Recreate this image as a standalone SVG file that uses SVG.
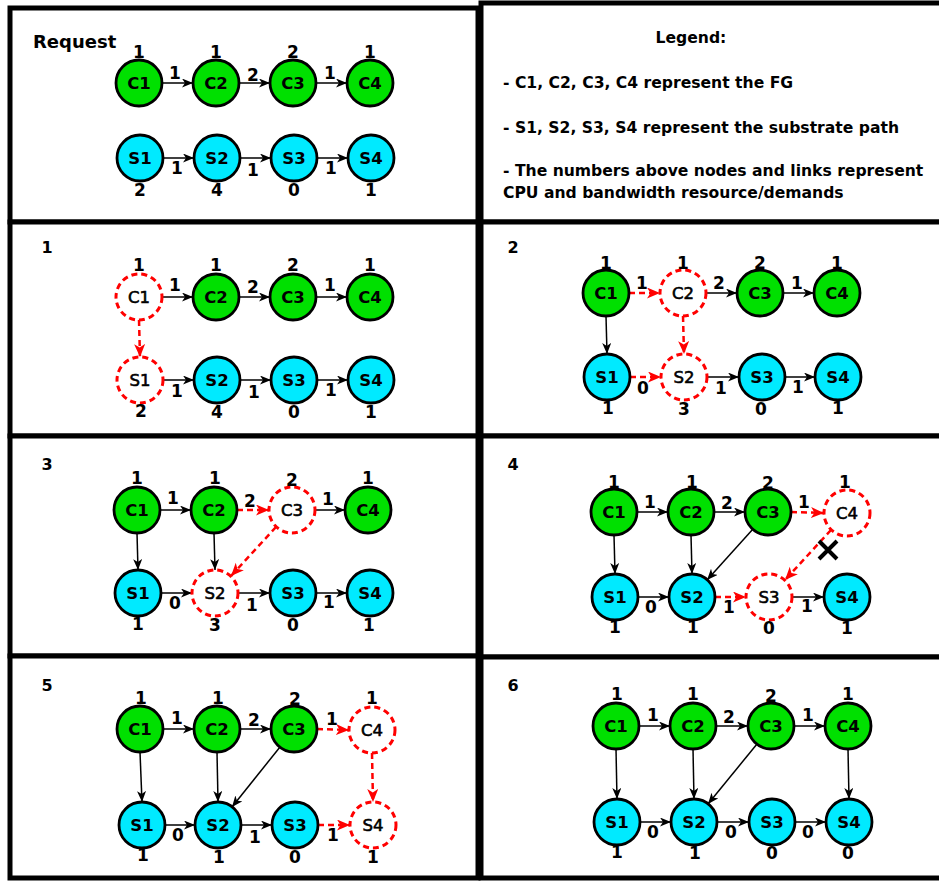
<svg xmlns="http://www.w3.org/2000/svg" width="939" height="881" viewBox="0 0 939 881">
<defs>
<style>
.frame{fill:#fff;stroke:#000;stroke-width:5}
.g{fill:#00e000;stroke:#000;stroke-width:2.8}
.c{fill:#00eaff;stroke:#000;stroke-width:2.8}
.d{fill:#fff;stroke:#f00;stroke-width:3;stroke-dasharray:6 4}
.n{font-family:"DejaVu Sans",sans-serif;font-weight:bold;font-size:16.5px;text-anchor:middle;fill:#000}
.nd{font-family:"DejaVu Sans",sans-serif;font-size:16.5px;text-anchor:middle;fill:#000;stroke:#000;stroke-width:0.6}
.v{font-family:"DejaVu Sans",sans-serif;font-weight:bold;font-size:17px;text-anchor:middle;fill:#000}
.t{font-family:"DejaVu Sans",sans-serif;font-weight:bold;font-size:16px;fill:#000}
.rq{font-family:"DejaVu Sans",sans-serif;font-weight:bold;font-size:18px;fill:#000}
.lg{font-family:"DejaVu Sans",sans-serif;font-weight:bold;font-size:15.6px;fill:#000}
.a{stroke:#000;stroke-width:1.5;fill:none;marker-end:url(#ab)}
.r{stroke:#f00;stroke-width:2.5;fill:none;stroke-dasharray:6 4;marker-end:url(#ar)}
</style>
<marker id="ab" markerUnits="userSpaceOnUse" markerWidth="12" markerHeight="10" refX="11" refY="4.5" orient="auto"><path d="M0,0 L11,4.5 L0,9 L3,4.5 z" fill="#000"/></marker>
<marker id="ar" markerUnits="userSpaceOnUse" markerWidth="14" markerHeight="12" refX="13" refY="5.5" orient="auto"><path d="M0,0 L13,5.5 L0,11 L3.5,5.5 z" fill="#f00"/></marker>
</defs>
<rect width="939" height="881" fill="#fff"/>
<g id="frames">
<rect class="frame" x="10" y="8" width="468" height="214"/>
<rect class="frame" x="481" y="3" width="464" height="219"/>
<rect class="frame" x="10" y="222" width="468" height="214"/>
<rect class="frame" x="481" y="222" width="464" height="214"/>
<rect class="frame" x="10" y="436" width="468" height="220"/>
<rect class="frame" x="481" y="436" width="464" height="221"/>
<rect class="frame" x="10" y="656" width="468" height="222"/>
<rect class="frame" x="481" y="657" width="464" height="221"/>
</g>
<g id="titles">
<text class="rq" x="33" y="48">Request</text>
<text class="t" x="47" y="253" text-anchor="middle">1</text>
<text class="t" x="513" y="253" text-anchor="middle">2</text>
<text class="t" x="47" y="470" text-anchor="middle">3</text>
<text class="t" x="513" y="470" text-anchor="middle">4</text>
<text class="t" x="47" y="691" text-anchor="middle">5</text>
<text class="t" x="513" y="691" text-anchor="middle">6</text>
</g>
<g id="legend">
<text class="lg" x="691" y="43" text-anchor="middle">Legend:</text>
<text class="lg" x="503" y="88">- C1, C2, C3, C4 represent the FG</text>
<text class="lg" x="503" y="133">- S1, S2, S3, S4 represent the substrate path</text>
<text class="lg" x="503" y="176">- The numbers above nodes and links represent</text>
<text class="lg" x="503" y="198">CPU and bandwidth resource/demands</text>
</g>
<g id="connectors">
<line class="a" x1="162" y1="83" x2="193" y2="83"/>
<line class="a" x1="239" y1="83" x2="270" y2="83"/>
<line class="a" x1="316" y1="83" x2="347" y2="83"/>
<line class="a" x1="163" y1="158" x2="194" y2="158"/>
<line class="a" x1="240" y1="158" x2="271" y2="158"/>
<line class="a" x1="317" y1="158" x2="348" y2="158"/>
<line class="a" x1="162" y1="297" x2="193" y2="297"/>
<line class="a" x1="239" y1="297" x2="270" y2="297"/>
<line class="a" x1="316" y1="297" x2="347" y2="297"/>
<line class="r" x1="139" y1="320" x2="140" y2="357"/>
<line class="a" x1="163" y1="380" x2="194" y2="380"/>
<line class="a" x1="240" y1="380" x2="271" y2="380"/>
<line class="a" x1="317" y1="380" x2="348" y2="380"/>
<line class="r" x1="629" y1="293" x2="660" y2="293"/>
<line class="a" x1="706" y1="293" x2="737" y2="293"/>
<line class="a" x1="783" y1="293" x2="814" y2="293"/>
<line class="a" x1="606" y1="316" x2="607" y2="354"/>
<line class="r" x1="683" y1="316" x2="684" y2="354"/>
<line class="r" x1="630" y1="377" x2="661" y2="377"/>
<line class="a" x1="707" y1="377" x2="739" y2="377"/>
<line class="a" x1="785" y1="377" x2="815" y2="377"/>
<line class="a" x1="160" y1="510" x2="191" y2="510"/>
<line class="r" x1="237" y1="510" x2="269" y2="510"/>
<line class="a" x1="315" y1="510" x2="345" y2="510"/>
<line class="a" x1="137" y1="533" x2="138" y2="570"/>
<line class="a" x1="214" y1="533" x2="215" y2="570"/>
<line class="r" x1="276" y1="527" x2="231" y2="576"/>
<line class="a" x1="161" y1="593" x2="192" y2="593"/>
<line class="a" x1="238" y1="593" x2="270" y2="593"/>
<line class="a" x1="316" y1="593" x2="347" y2="593"/>
<line class="a" x1="637" y1="512" x2="668" y2="512"/>
<line class="a" x1="714" y1="512" x2="745" y2="512"/>
<line class="r" x1="791" y1="512" x2="824" y2="513"/>
<line class="a" x1="614" y1="535" x2="615" y2="574"/>
<line class="a" x1="691" y1="535" x2="692" y2="574"/>
<line class="a" x1="753" y1="529" x2="707" y2="580"/>
<line class="r" x1="831" y1="530" x2="785" y2="580"/>
<line class="a" x1="638" y1="597" x2="669" y2="597"/>
<line class="r" x1="715" y1="597" x2="746" y2="597"/>
<line class="a" x1="792" y1="597" x2="824" y2="597"/>
<line class="a" x1="163" y1="729" x2="194" y2="729"/>
<line class="a" x1="240" y1="729" x2="271" y2="729"/>
<line class="r" x1="317" y1="729" x2="349" y2="730"/>
<line class="a" x1="140" y1="752" x2="142" y2="802"/>
<line class="a" x1="217" y1="752" x2="218" y2="802"/>
<line class="a" x1="280" y1="747" x2="232" y2="807"/>
<line class="r" x1="372" y1="753" x2="373" y2="802"/>
<line class="a" x1="165" y1="825" x2="195" y2="825"/>
<line class="a" x1="241" y1="825" x2="272" y2="825"/>
<line class="r" x1="318" y1="825" x2="350" y2="825"/>
<line class="a" x1="639" y1="726" x2="670" y2="726"/>
<line class="a" x1="716" y1="726" x2="748" y2="726"/>
<line class="a" x1="794" y1="726" x2="825" y2="726"/>
<line class="a" x1="616" y1="749" x2="617" y2="799"/>
<line class="a" x1="693" y1="749" x2="694" y2="799"/>
<line class="a" x1="757" y1="744" x2="708" y2="804"/>
<line class="a" x1="848" y1="749" x2="849" y2="799"/>
<line class="a" x1="640" y1="822" x2="671" y2="822"/>
<line class="a" x1="717" y1="822" x2="749" y2="822"/>
<line class="a" x1="795" y1="822" x2="826" y2="822"/>
<path d="M819,541 L837,559 M837,541 L819,559" stroke="#000" stroke-width="4" fill="none"/>
</g>
<g id="link-labels">
<text class="v" x="175" y="79">1</text><text class="v" x="253" y="81">2</text><text class="v" x="330" y="79">1</text>
<text class="v" x="177" y="174">1</text><text class="v" x="253" y="176">1</text><text class="v" x="331" y="174">1</text>
<text class="v" x="175" y="291">1</text><text class="v" x="253" y="293">2</text><text class="v" x="330" y="291">1</text>
<text class="v" x="177" y="397">1</text><text class="v" x="254" y="398">1</text><text class="v" x="331" y="396">1</text>
<text class="v" x="642" y="289">1</text><text class="v" x="719" y="289">2</text><text class="v" x="797" y="289">1</text>
<text class="v" x="643" y="394">0</text><text class="v" x="721" y="394">1</text><text class="v" x="798" y="393">1</text>
<text class="v" x="173" y="504">1</text><text class="v" x="250" y="507">2</text><text class="v" x="328" y="505">1</text>
<text class="v" x="175" y="609">0</text><text class="v" x="252" y="611">1</text><text class="v" x="329" y="608">1</text>
<text class="v" x="650" y="508">1</text><text class="v" x="727" y="509">2</text><text class="v" x="804" y="508">1</text>
<text class="v" x="651" y="613">0</text><text class="v" x="729" y="613">1</text><text class="v" x="807" y="612">1</text>
<text class="v" x="177" y="724">1</text><text class="v" x="254" y="726">2</text><text class="v" x="332" y="725">1</text>
<text class="v" x="178" y="841">0</text><text class="v" x="255" y="843">1</text><text class="v" x="333" y="841">1</text>
<text class="v" x="653" y="721">1</text><text class="v" x="729" y="723">2</text><text class="v" x="808" y="721">1</text>
<text class="v" x="653" y="838">0</text><text class="v" x="731" y="838">0</text><text class="v" x="808" y="838">0</text>
</g>
<g id="req-C1"><circle class="g" cx="139" cy="83" r="23"/><text class="n" x="139" y="89">C1</text><text class="v" x="139" y="58">1</text></g>
<g id="req-C2"><circle class="g" cx="216" cy="83" r="23"/><text class="n" x="216" y="89">C2</text><text class="v" x="216" y="58">1</text></g>
<g id="req-C3"><circle class="g" cx="293" cy="83" r="23"/><text class="n" x="293" y="89">C3</text><text class="v" x="293" y="58">2</text></g>
<g id="req-C4"><circle class="g" cx="370" cy="83" r="23"/><text class="n" x="370" y="89">C4</text><text class="v" x="370" y="58">1</text></g>
<g id="req-S1"><circle class="c" cx="140" cy="158" r="23"/><text class="n" x="140" y="164">S1</text><text class="v" x="140" y="196">2</text></g>
<g id="req-S2"><circle class="c" cx="217" cy="158" r="23"/><text class="n" x="217" y="164">S2</text><text class="v" x="217" y="196">4</text></g>
<g id="req-S3"><circle class="c" cx="294" cy="158" r="23"/><text class="n" x="294" y="164">S3</text><text class="v" x="294" y="196">0</text></g>
<g id="req-S4"><circle class="c" cx="371" cy="158" r="23"/><text class="n" x="371" y="164">S4</text><text class="v" x="371" y="196">1</text></g>
<g id="p1-C1"><circle class="d" cx="139" cy="297" r="23"/><text class="nd" x="139" y="303">C1</text><text class="v" x="139" y="271">1</text></g>
<g id="p1-C2"><circle class="g" cx="216" cy="297" r="23"/><text class="n" x="216" y="303">C2</text><text class="v" x="216" y="271">1</text></g>
<g id="p1-C3"><circle class="g" cx="293" cy="297" r="23"/><text class="n" x="293" y="303">C3</text><text class="v" x="293" y="271">2</text></g>
<g id="p1-C4"><circle class="g" cx="370" cy="297" r="23"/><text class="n" x="370" y="303">C4</text><text class="v" x="370" y="271">1</text></g>
<g id="p1-S1"><circle class="d" cx="140" cy="380" r="23"/><text class="nd" x="140" y="386">S1</text><text class="v" x="141" y="417">2</text></g>
<g id="p1-S2"><circle class="c" cx="217" cy="380" r="23"/><text class="n" x="217" y="386">S2</text><text class="v" x="217" y="418">4</text></g>
<g id="p1-S3"><circle class="c" cx="294" cy="380" r="23"/><text class="n" x="294" y="386">S3</text><text class="v" x="294" y="418">0</text></g>
<g id="p1-S4"><circle class="c" cx="371" cy="380" r="23"/><text class="n" x="371" y="386">S4</text><text class="v" x="371" y="418">1</text></g>
<g id="p2-C1"><circle class="g" cx="606" cy="293" r="23"/><text class="n" x="606" y="299">C1</text><text class="v" x="606" y="269">1</text></g>
<g id="p2-C2"><circle class="d" cx="683" cy="293" r="23"/><text class="nd" x="683" y="299">C2</text><text class="v" x="683" y="269">1</text></g>
<g id="p2-C3"><circle class="g" cx="760" cy="293" r="23"/><text class="n" x="760" y="299">C3</text><text class="v" x="760" y="269">2</text></g>
<g id="p2-C4"><circle class="g" cx="837" cy="293" r="23"/><text class="n" x="837" y="299">C4</text><text class="v" x="837" y="269">1</text></g>
<g id="p2-S1"><circle class="c" cx="607" cy="377" r="23"/><text class="n" x="607" y="383">S1</text><text class="v" x="608" y="414">1</text></g>
<g id="p2-S2"><circle class="d" cx="684" cy="377" r="23"/><text class="nd" x="684" y="383">S2</text><text class="v" x="684" y="415">3</text></g>
<g id="p2-S3"><circle class="c" cx="762" cy="377" r="23"/><text class="n" x="762" y="383">S3</text><text class="v" x="761" y="415">0</text></g>
<g id="p2-S4"><circle class="c" cx="838" cy="377" r="23"/><text class="n" x="838" y="383">S4</text><text class="v" x="838" y="414">1</text></g>
<g id="p3-C1"><circle class="g" cx="137" cy="510" r="23"/><text class="n" x="137" y="516">C1</text><text class="v" x="137" y="484">1</text></g>
<g id="p3-C2"><circle class="g" cx="214" cy="510" r="23"/><text class="n" x="214" y="516">C2</text><text class="v" x="215" y="484">1</text></g>
<g id="p3-C3"><circle class="d" cx="292" cy="510" r="23"/><text class="nd" x="292" y="516">C3</text><text class="v" x="292" y="486">2</text></g>
<g id="p3-C4"><circle class="g" cx="368" cy="510" r="23"/><text class="n" x="368" y="516">C4</text><text class="v" x="368" y="484">1</text></g>
<g id="p3-S1"><circle class="c" cx="138" cy="593" r="23"/><text class="n" x="138" y="599">S1</text><text class="v" x="138" y="630">1</text></g>
<g id="p3-S2"><circle class="d" cx="215" cy="593" r="23"/><text class="nd" x="215" y="599">S2</text><text class="v" x="215" y="631">3</text></g>
<g id="p3-S3"><circle class="c" cx="293" cy="593" r="23"/><text class="n" x="293" y="599">S3</text><text class="v" x="293" y="631">0</text></g>
<g id="p3-S4"><circle class="c" cx="370" cy="593" r="23"/><text class="n" x="370" y="599">S4</text><text class="v" x="369" y="631">1</text></g>
<g id="p4-C1"><circle class="g" cx="614" cy="512" r="23"/><text class="n" x="614" y="518">C1</text><text class="v" x="614" y="488">1</text></g>
<g id="p4-C2"><circle class="g" cx="691" cy="512" r="23"/><text class="n" x="691" y="518">C2</text><text class="v" x="692" y="488">1</text></g>
<g id="p4-C3"><circle class="g" cx="768" cy="512" r="23"/><text class="n" x="768" y="518">C3</text><text class="v" x="768" y="489">2</text></g>
<g id="p4-C4"><circle class="d" cx="847" cy="513" r="23"/><text class="nd" x="847" y="519">C4</text><text class="v" x="845" y="488">1</text></g>
<g id="p4-S1"><circle class="c" cx="615" cy="597" r="23"/><text class="n" x="615" y="603">S1</text><text class="v" x="615" y="633">1</text></g>
<g id="p4-S2"><circle class="c" cx="692" cy="597" r="23"/><text class="n" x="692" y="603">S2</text><text class="v" x="693" y="633">1</text></g>
<g id="p4-S3"><circle class="d" cx="769" cy="597" r="23"/><text class="nd" x="769" y="603">S3</text><text class="v" x="769" y="634">0</text></g>
<g id="p4-S4"><circle class="c" cx="847" cy="597" r="23"/><text class="n" x="847" y="603">S4</text><text class="v" x="847" y="634">1</text></g>
<g id="p5-C1"><circle class="g" cx="140" cy="729" r="23"/><text class="n" x="140" y="735">C1</text><text class="v" x="141" y="704">1</text></g>
<g id="p5-C2"><circle class="g" cx="217" cy="729" r="23"/><text class="n" x="217" y="735">C2</text><text class="v" x="218" y="704">1</text></g>
<g id="p5-C3"><circle class="g" cx="294" cy="729" r="23"/><text class="n" x="294" y="735">C3</text><text class="v" x="295" y="705">2</text></g>
<g id="p5-C4"><circle class="d" cx="372" cy="730" r="23"/><text class="nd" x="372" y="736">C4</text><text class="v" x="372" y="704">1</text></g>
<g id="p5-S1"><circle class="c" cx="142" cy="825" r="23"/><text class="n" x="142" y="831">S1</text><text class="v" x="143" y="861">1</text></g>
<g id="p5-S2"><circle class="c" cx="218" cy="825" r="23"/><text class="n" x="218" y="831">S2</text><text class="v" x="219" y="863">1</text></g>
<g id="p5-S3"><circle class="c" cx="295" cy="825" r="23"/><text class="n" x="295" y="831">S3</text><text class="v" x="295" y="863">0</text></g>
<g id="p5-S4"><circle class="d" cx="373" cy="825" r="23"/><text class="nd" x="373" y="831">S4</text><text class="v" x="373" y="863">1</text></g>
<g id="p6-C1"><circle class="g" cx="616" cy="726" r="23"/><text class="n" x="616" y="732">C1</text><text class="v" x="617" y="700">1</text></g>
<g id="p6-C2"><circle class="g" cx="693" cy="726" r="23"/><text class="n" x="693" y="732">C2</text><text class="v" x="693" y="700">1</text></g>
<g id="p6-C3"><circle class="g" cx="771" cy="726" r="23"/><text class="n" x="771" y="732">C3</text><text class="v" x="771" y="702">2</text></g>
<g id="p6-C4"><circle class="g" cx="848" cy="726" r="23"/><text class="n" x="848" y="732">C4</text><text class="v" x="848" y="700">1</text></g>
<g id="p6-S1"><circle class="c" cx="617" cy="822" r="23"/><text class="n" x="617" y="828">S1</text><text class="v" x="617" y="858">1</text></g>
<g id="p6-S2"><circle class="c" cx="694" cy="822" r="23"/><text class="n" x="694" y="828">S2</text><text class="v" x="695" y="859">1</text></g>
<g id="p6-S3"><circle class="c" cx="772" cy="822" r="23"/><text class="n" x="772" y="828">S3</text><text class="v" x="772" y="859">0</text></g>
<g id="p6-S4"><circle class="c" cx="849" cy="822" r="23"/><text class="n" x="849" y="828">S4</text><text class="v" x="848" y="859">0</text></g>
</svg>
